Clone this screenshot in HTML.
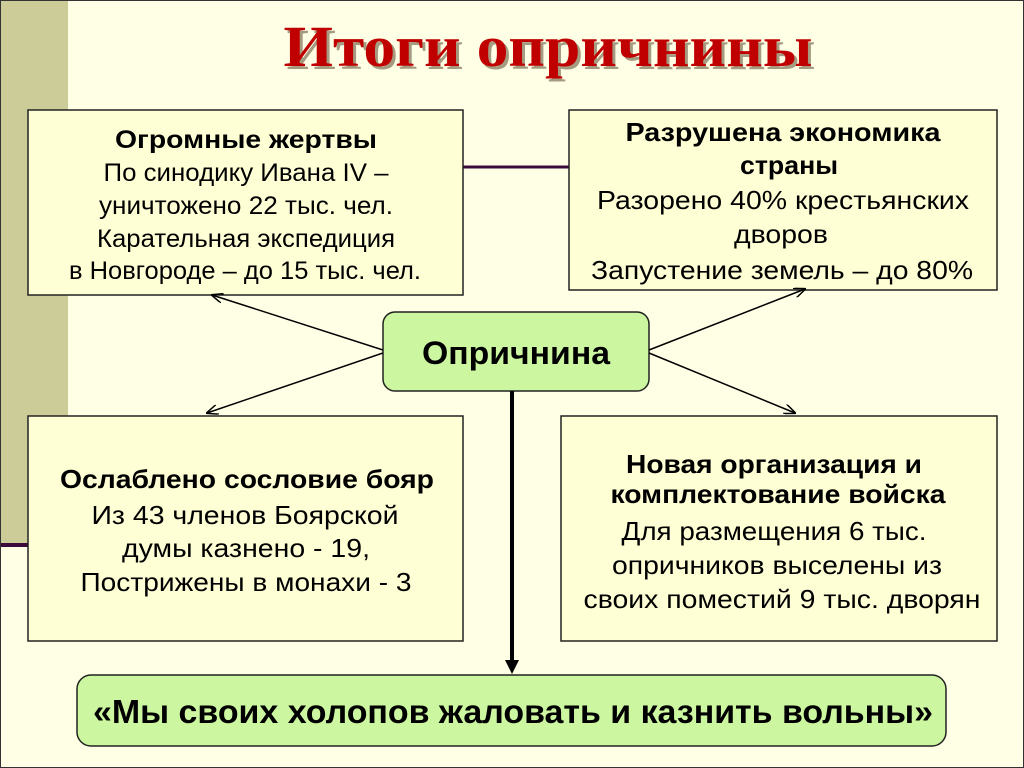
<!DOCTYPE html>
<html><head><meta charset="utf-8"><style>
html,body{margin:0;padding:0;background:#FFFFE6;}
svg{display:block}
text{font-family:"Liberation Sans",sans-serif;fill:#000;text-anchor:middle}
.b{font-weight:bold}
</style></head><body>
<svg width="1024" height="768" viewBox="0 0 1024 768" xmlns="http://www.w3.org/2000/svg">
<defs>
<marker id="a" markerWidth="12" markerHeight="10" refX="11" refY="5" orient="auto" markerUnits="userSpaceOnUse">
<path d="M0,0 L12,5 L0,10" fill="none" stroke="#000" stroke-width="1.5"/></marker>
</defs>
<rect x="0" y="0" width="1024" height="768" fill="#FFFFE6"/>
<rect x="0" y="0" width="68" height="545" fill="#CCCC99"/>
<rect x="0" y="543" width="30" height="4" fill="#3A0A3A"/>
<rect x="0.5" y="0.5" width="1023" height="767" fill="none" stroke="#333" stroke-width="1"/>
<line x1="463" y1="167" x2="569" y2="167" stroke="#3A0A3A" stroke-width="3"/>
<text x="551" y="69" textLength="529" lengthAdjust="spacingAndGlyphs" style="font-family:'Liberation Serif',serif;font-size:58px;font-weight:bold;fill:#5a4a30" opacity="0.55">Итоги опричнины</text>
<text x="548" y="66" textLength="529" lengthAdjust="spacingAndGlyphs" style="font-family:'Liberation Serif',serif;font-size:58px;font-weight:bold;fill:#C00000">Итоги опричнины</text>

<rect x="28" y="110" width="435" height="185" fill="#FFFFD6" stroke="#222" stroke-width="1.5"/>
<rect x="569" y="110" width="428" height="180" fill="#FFFFD6" stroke="#222" stroke-width="1.5"/>
<rect x="28" y="416" width="435" height="225" fill="#FFFFD6" stroke="#222" stroke-width="1.5"/>
<rect x="561" y="416" width="436" height="225" fill="#FFFFD6" stroke="#222" stroke-width="1.5"/>
<rect x="383" y="312" width="266" height="79" rx="12" fill="#CCF7A0" stroke="#222" stroke-width="1.5"/>
<rect x="77" y="675" width="869" height="71" rx="14" fill="#CCF7A0" stroke="#222" stroke-width="1.5"/>

<line x1="383" y1="350" x2="212" y2="295" stroke="#000" stroke-width="1.5" marker-end="url(#a)"/>
<line x1="383" y1="353" x2="207" y2="413" stroke="#000" stroke-width="1.5" marker-end="url(#a)"/>
<line x1="649" y1="350" x2="805" y2="289" stroke="#000" stroke-width="1.5" marker-end="url(#a)"/>
<line x1="649" y1="353" x2="795" y2="413" stroke="#000" stroke-width="1.5" marker-end="url(#a)"/>
<line x1="512" y1="391" x2="512" y2="662" stroke="#000" stroke-width="4"/>
<path d="M505,660 L519,660 L512,674 z" fill="#000"/>

<g style="font-size:25px">
<text x="246" y="148" class="b" textLength="262" lengthAdjust="spacingAndGlyphs">Огромные жертвы</text>
<text x="246" y="181" textLength="285" lengthAdjust="spacingAndGlyphs">По синодику Ивана IV –</text>
<text x="246" y="214" textLength="294" lengthAdjust="spacingAndGlyphs">уничтожено 22 тыс. чел.</text>
<text x="246" y="247" textLength="298" lengthAdjust="spacingAndGlyphs">Карательная экспедиция</text>
<text x="245" y="279" textLength="352" lengthAdjust="spacingAndGlyphs">в Новгороде – до 15 тыс. чел.</text>
</g>
<g style="font-size:26px">
<text x="783" y="141" class="b" textLength="315" lengthAdjust="spacingAndGlyphs">Разрушена экономика</text>
<text x="789" y="174" class="b" textLength="98" lengthAdjust="spacingAndGlyphs">страны</text>
<text x="783" y="209" textLength="372" lengthAdjust="spacingAndGlyphs">Разорено 40% крестьянских</text>
<text x="781" y="243" textLength="94" lengthAdjust="spacingAndGlyphs">дворов</text>
<text x="782" y="279" textLength="382" lengthAdjust="spacingAndGlyphs">Запустение земель – до 80%</text>
</g>
<g style="font-size:26px">
<text x="247" y="488" class="b" textLength="374" lengthAdjust="spacingAndGlyphs">Ослаблено сословие бояр</text>
<text x="245" y="524" textLength="307" lengthAdjust="spacingAndGlyphs">Из 43 членов Боярской</text>
<text x="246" y="557" textLength="248" lengthAdjust="spacingAndGlyphs">думы казнено - 19,</text>
<text x="246" y="591" textLength="331" lengthAdjust="spacingAndGlyphs">Пострижены в монахи - 3</text>
</g>
<g style="font-size:26px">
<text x="774" y="473" class="b" textLength="296" lengthAdjust="spacingAndGlyphs">Новая организация и</text>
<text x="778" y="503" class="b" textLength="335" lengthAdjust="spacingAndGlyphs">комплектование войска</text>
<text x="774" y="540" textLength="305" lengthAdjust="spacingAndGlyphs">Для размещения 6 тыс.</text>
<text x="777" y="574" textLength="330" lengthAdjust="spacingAndGlyphs">опричников выселены из</text>
<text x="782" y="608" textLength="397" lengthAdjust="spacingAndGlyphs">своих поместий 9 тыс. дворян</text>
</g>
<text x="516" y="364" class="b" style="font-size:32px" textLength="188" lengthAdjust="spacingAndGlyphs">Опричнина</text>
<text x="513" y="723" class="b" style="font-size:33px" textLength="840" lengthAdjust="spacingAndGlyphs">«Мы своих холопов жаловать и казнить вольны»</text>
</svg>
</body></html>
